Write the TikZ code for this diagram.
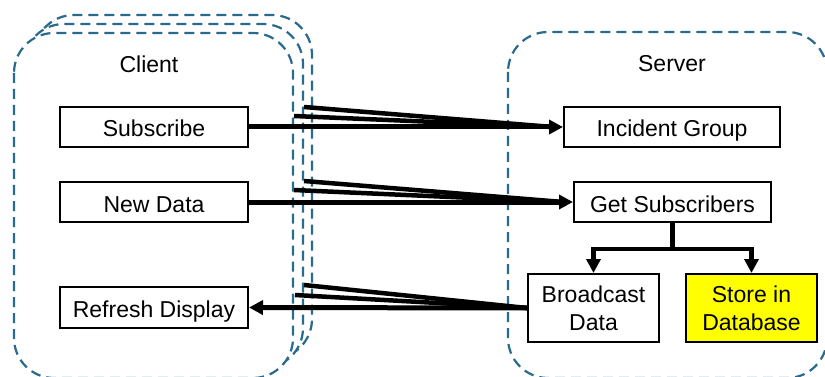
\documentclass[tikz,border=0pt]{standalone}
\usepackage{fontspec}
\setmainfont{Liberation Sans}
\usetikzlibrary{arrows.meta}
\definecolor{dashblue}{HTML}{2B6A8F}
\definecolor{storeyellow}{HTML}{FFFF00}
\tikzset{
  group/.style={draw=dashblue, line width=2.2pt, dash pattern=on 10pt off 6pt, rounded corners=40pt, fill=white},
  box/.style={draw=black, line width=2pt, fill=white, inner sep=0pt, align=center,
    font=\fontsize{23}{28}\selectfont},
  oneline/.style={text height=20pt, text depth=0pt},
  lbl/.style={inner sep=0pt, font=\fontsize{23}{28}\selectfont},
  arr/.style={line width=5pt, -{Triangle[length=14pt,width=14pt]}},
  shadowline/.style={line width=4.5pt, line cap=butt},
}
\begin{document}
\begin{tikzpicture}[x=1pt,y=-1pt]
\useasboundingbox (0,0) rectangle (825,377);
% client stack
\draw[group] (34,15) rectangle (312,359);
\draw[group] (24,24) rectangle (303,368);
\draw[group] (14,33) rectangle (293,378);
% server
\begin{scope}
\clip (0,0) rectangle (825,377);
\draw[group] (508,32) rectangle (827,378);
\end{scope}
\node[lbl] (client) at (149,64) {Client};
\node[lbl] (server) at (672,64) {Server};
% nodes
\node[box, oneline, minimum width=188pt, minimum height=40pt] (sub) at (154,127) {Subscribe};
\node[box, oneline, minimum width=188pt, minimum height=40pt] (nd) at (154,202) {New Data};
\node[box, oneline, minimum width=188pt, minimum height=41pt] (rd) at (154,307.5) {Refresh Display};
\node[box, oneline, minimum width=216pt, minimum height=40pt] (ig) at (672,127) {Incident Group};
\node[box, oneline, minimum width=197pt, minimum height=40pt] (gs) at (672.5,202) {Get Subscribers};
\node[box, minimum width=131pt, minimum height=68pt] (bd) at (593.5,308) {Broadcast\\Data};
\node[box, minimum width=131pt, minimum height=68pt, fill=storeyellow] (sd) at (751.5,308) {Store in\\Database};
% shadow start points
\coordinate (s1a) at (294,116);
\coordinate (s1b) at (304,107);
\coordinate (s2a) at (294,190);
\coordinate (s2b) at (304,181);
\coordinate (s3a) at (295,295);
\coordinate (s3b) at (304,285);
\coordinate (t1) at ([xshift=-10pt]ig.west);
\coordinate (t2) at ([xshift=-10pt]gs.west);
% shadow lines
\draw[shadowline] (s1a) -- (t1);
\draw[shadowline] (s1b) -- (t1);
\draw[shadowline] (s2a) -- (t2);
\draw[shadowline] (s2b) -- (t2);
\draw[shadowline] (s3a) -- (bd.west);
\draw[shadowline] (s3b) -- (bd.west);
% main arrows
\draw[arr] (sub.east) -- (ig.west);
\draw[arr] (nd.east) -- (gs.west);
\draw[arr] (bd.west) -- (rd.east);
\draw[arr, line width=4.5pt] (gs.south) -- ++(0,26) -| (bd.north);
\draw[arr, line width=4.5pt] (gs.south) -- ++(0,26) -| (sd.north);
\end{tikzpicture}
\end{document}
